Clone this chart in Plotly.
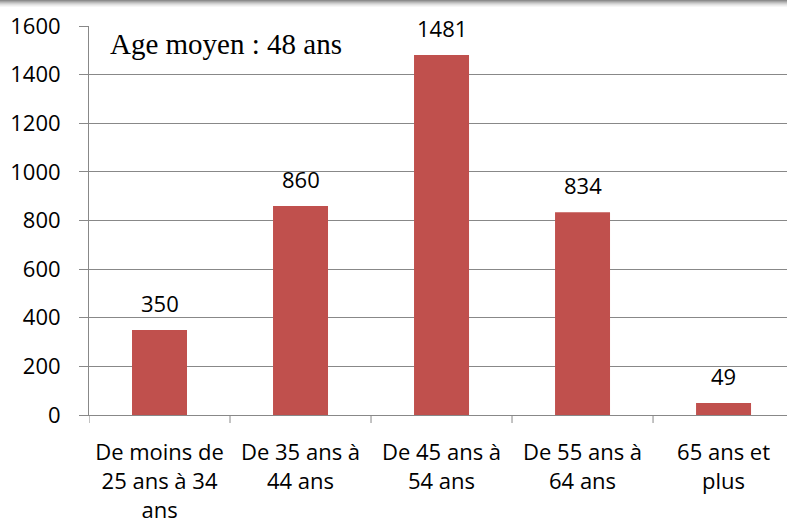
import plotly.graph_objects as go

categories = ["De moins de<br>25 ans à 34<br>ans", "De 35 ans à<br>44 ans", "De 45 ans à<br>54 ans",
              "De 55 ans à<br>64 ans", "65 ans et<br>plus"]
values = [350, 860, 1481, 834, 49]
y_ticks = [0, 200, 400, 600, 800, 1000, 1200, 1400, 1600]
note = "Age moyen : 48 ans"

W, H = 787, 522
ml, mr, mt, mb = 89, 0, 26, 107
ph = H - mt - mb
FONT = "Open Sans, Noto Sans, sans-serif"

fig = go.Figure()
fig.add_trace(go.Bar(x=list(range(len(categories))), y=values, marker_color="#C0504D",
                     marker_line_width=0, width=0.39, hoverinfo="skip"))

for i, v in enumerate(values):
    fig.add_annotation(x=i, y=v, text=str(v), showarrow=False, yshift=27,
                       font=dict(family=FONT, size=22, color="#000"))

fig.add_annotation(xref="paper", x=(108 - ml) / (W - ml - mr), yref="y", y=1526, xanchor="left",
                   text=note, showarrow=False,
                   font=dict(family="Liberation Serif, Times New Roman, serif", size=29, color="#000"))

# top shadow
shades = ["#8c8c8c", "#a4a4a4", "#bababa", "#cecece", "#dfdfdf", "#ececec", "#f6f6f6"]
for k, c in enumerate(shades):
    y0 = 1 + (mt - k - 1) / ph
    y1 = 1 + (mt - k) / ph
    fig.add_shape(type="rect", xref="paper", yref="paper", x0=-ml / (W - ml), x1=1.0, y0=y0, y1=y1,
                  fillcolor=c, line_width=0, layer="above")

fig.update_layout(
    width=W, height=H, margin=dict(l=ml, r=mr, t=mt, b=mb, autoexpand=False),
    paper_bgcolor="white", plot_bgcolor="white", showlegend=False,
    font=dict(family=FONT, size=22, color="#000"),
    xaxis=dict(tickmode="array", tickvals=list(range(len(categories))), ticktext=categories,
               range=[-0.5, 4.45], showgrid=False, showline=True, linecolor="#888", linewidth=1,
               ticks="", zeroline=False, tickfont=dict(size=22), ticklabelstandoff=18,
               automargin=False),
    yaxis=dict(range=[0, 1600], tickvals=y_ticks, showgrid=True, gridcolor="#888", gridwidth=1,
               showline=True, linecolor="#888", ticks="outside", ticklen=9, tickcolor="#888",
               zeroline=False, tickfont=dict(size=22), ticklabelstandoff=14, automargin=False),
    bargap=0.6,
)

# category boundary tick marks on x axis
for b in [-0.5, 0.5, 1.5, 2.5, 3.5]:
    fig.add_shape(type="line", xref="x", yref="paper", x0=b, x1=b, y0=0, y1=-8 / ph,
                  line=dict(color="#888", width=1))

fig.write_html("out.html", config={"displayModeBar": False},
               post_script="document.body.style.margin='0';document.body.style.overflow='hidden';")
